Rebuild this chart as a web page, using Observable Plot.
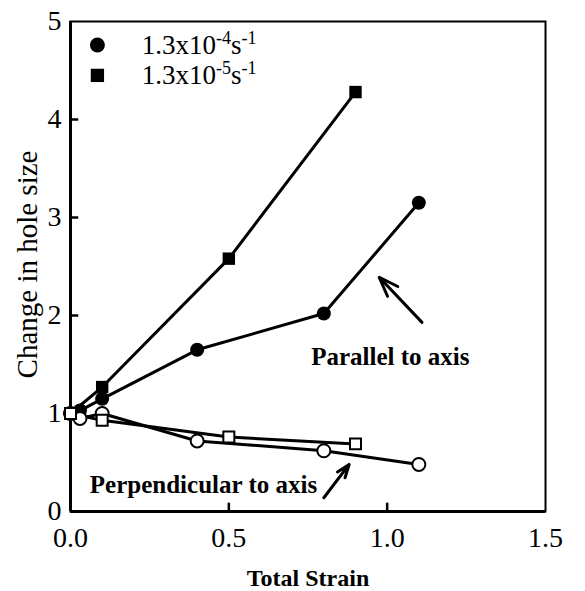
<!DOCTYPE html>
<html>
<head>
<meta charset="utf-8">
<script src="https://cdn.jsdelivr.net/npm/d3@7"></script>
<script src="https://cdn.jsdelivr.net/npm/@observablehq/plot@0.6"></script>
<style>
  html, body { margin: 0; padding: 0; background: #fff; }
  #chart svg { display: block; }
</style>
</head>
<body>
<div id="chart"></div>
<script>
// ---- data ----
const strainFast = [0, 0.03, 0.1, 0.4, 0.8, 1.1];          // 1.3x10^-4 s^-1
const parallelFast = [1.0, 1.03, 1.15, 1.65, 2.02, 3.15];
const perpFast = [1.0, 0.95, 1.0, 0.72, 0.62, 0.48];

const strainSlow = [0, 0.1, 0.5, 0.9];                      // 1.3x10^-5 s^-1
const parallelSlow = [1.0, 1.27, 2.58, 4.28];
const perpSlow = [1.0, 0.93, 0.76, 0.69];

const xTicks = [0, 0.5, 1.0, 1.5];
const yTicks = [0, 1, 2, 3, 4, 5];
const legendLabels = ["1.3x10^-4^s^-1^", "1.3x10^-5^s^-1^"];
const legendSymbols = ["circle", "square"];
const legendX = [0.085, 0.085];
const legendY = [4.76, 4.45];
const legendTextX = [0.225, 0.225];

const annotations = [
  {x: 1.01, y: 1.58, text: "Parallel to axis"},
  {x: 0.42, y: 0.27, text: "Perpendicular to axis"}
];
const arrows = [
  {x1: 1.11, y1: 1.93, x2: 0.975, y2: 2.39},
  {x1: 0.80, y1: 0.14, x2: 0.88, y2: 0.48}
];

const mk = (xs, ys) => xs.map((x, i) => ({x, y: ys[i]}));
const parFast = mk(strainFast, parallelFast);
const parSlow = mk(strainSlow, parallelSlow);
const prpFast = mk(strainFast, perpFast);
const prpSlow = mk(strainSlow, perpSlow);
const legend = legendLabels.map((t, i) => ({t, s: legendSymbols[i], x: legendX[i], y: legendY[i], tx: legendTextX[i]}));

const font = "'Liberation Serif', 'Times New Roman', serif";

const plot = Plot.plot({
  width: 585,
  height: 591,
  marginLeft: 70,
  marginRight: 40,
  marginTop: 21,
  marginBottom: 80,
  style: {fontFamily: font, background: "#fff", color: "#000"},
  x: {domain: [0, 1.5]},
  y: {domain: [0, 5]},
  marks: [
    Plot.axisX({ticks: xTicks, tickFormat: d3.format(".1f"), tickSize: 0, tickPadding: 16, fontSize: 28,
      label: null}),
    Plot.axisY({ticks: yTicks, tickFormat: d3.format("d"), tickSize: 0, tickPadding: 9, fontSize: 28,
      label: null}),
    Plot.text(["Total Strain"], {frameAnchor: "bottom", dy: 67, lineAnchor: "middle", textAnchor: "middle", fontSize: 24, fontWeight: "bold", fill: "#000"}),
    Plot.text(["Change in hole size"], {frameAnchor: "left", dx: -43, dy: -2, rotate: -90, lineAnchor: "middle", textAnchor: "middle", fontSize: 29, fill: "#000"}),
    Plot.frame({stroke: "#000", strokeWidth: 2}),
    Plot.ruleX([0], {stroke: "#000", strokeWidth: 3}),
    Plot.ruleY([0], {stroke: "#000", strokeWidth: 3}),
    Plot.ruleY(yTicks.slice(1, 5), {x1: 0, x2: 0.026, stroke: "#000", strokeWidth: 2.5}),
    Plot.ruleX(xTicks.slice(1, 3), {y1: 0, y2: 0.085, stroke: "#000", strokeWidth: 2.5}),
    Plot.line(parFast, {x: "x", y: "y", stroke: "#000", strokeWidth: 3}),
    Plot.line(parSlow, {x: "x", y: "y", stroke: "#000", strokeWidth: 3}),
    Plot.line(prpFast, {x: "x", y: "y", stroke: "#000", strokeWidth: 3}),
    Plot.line(prpSlow, {x: "x", y: "y", stroke: "#000", strokeWidth: 3}),
    Plot.dot(parFast, {x: "x", y: "y", symbol: "circle", r: 7, fill: "#000"}),
    Plot.dot(parSlow, {x: "x", y: "y", symbol: "square", r: 7, fill: "#000"}),
    Plot.dot(prpFast, {x: "x", y: "y", symbol: "circle", r: 6.5, fill: "#fff", stroke: "#000", strokeWidth: 2}),
    Plot.dot(prpSlow, {x: "x", y: "y", symbol: "square", r: 6.2, fill: "#fff", stroke: "#000", strokeWidth: 2}),
    Plot.dot(legend, {x: "x", y: "y", symbol: "s", r: 7.5, fill: "#000"}),
    Plot.text(legend, {x: "tx", y: "y", text: "t", textAnchor: "start", fontSize: 27, fill: "#000", className: "suplegend"}),
    Plot.text(annotations, {x: "x", y: "y", text: "text", fontSize: 25, fontWeight: "bold", fill: "#000"}),
    Plot.arrow(arrows, {x1: "x1", y1: "y1", x2: "x2", y2: "y2", stroke: "#000", strokeWidth: 3, headLength: 14, headAngle: 40})
  ]
});

// render superscripts as tspans
d3.select(plot).selectAll("g.suplegend text").each(function() {
  const el = d3.select(this);
  const parts = el.text().split("^");
  el.text(null);
  parts.forEach((p, i) => {
    if (!p) return;
    const sup = i % 2 === 1;
    el.append("tspan")
      .attr("baseline-shift", sup ? "super" : null)
      .attr("font-size", sup ? "18" : null)
      .text(p);
  });
});

document.getElementById("chart").appendChild(plot);
</script>
</body>
</html>
